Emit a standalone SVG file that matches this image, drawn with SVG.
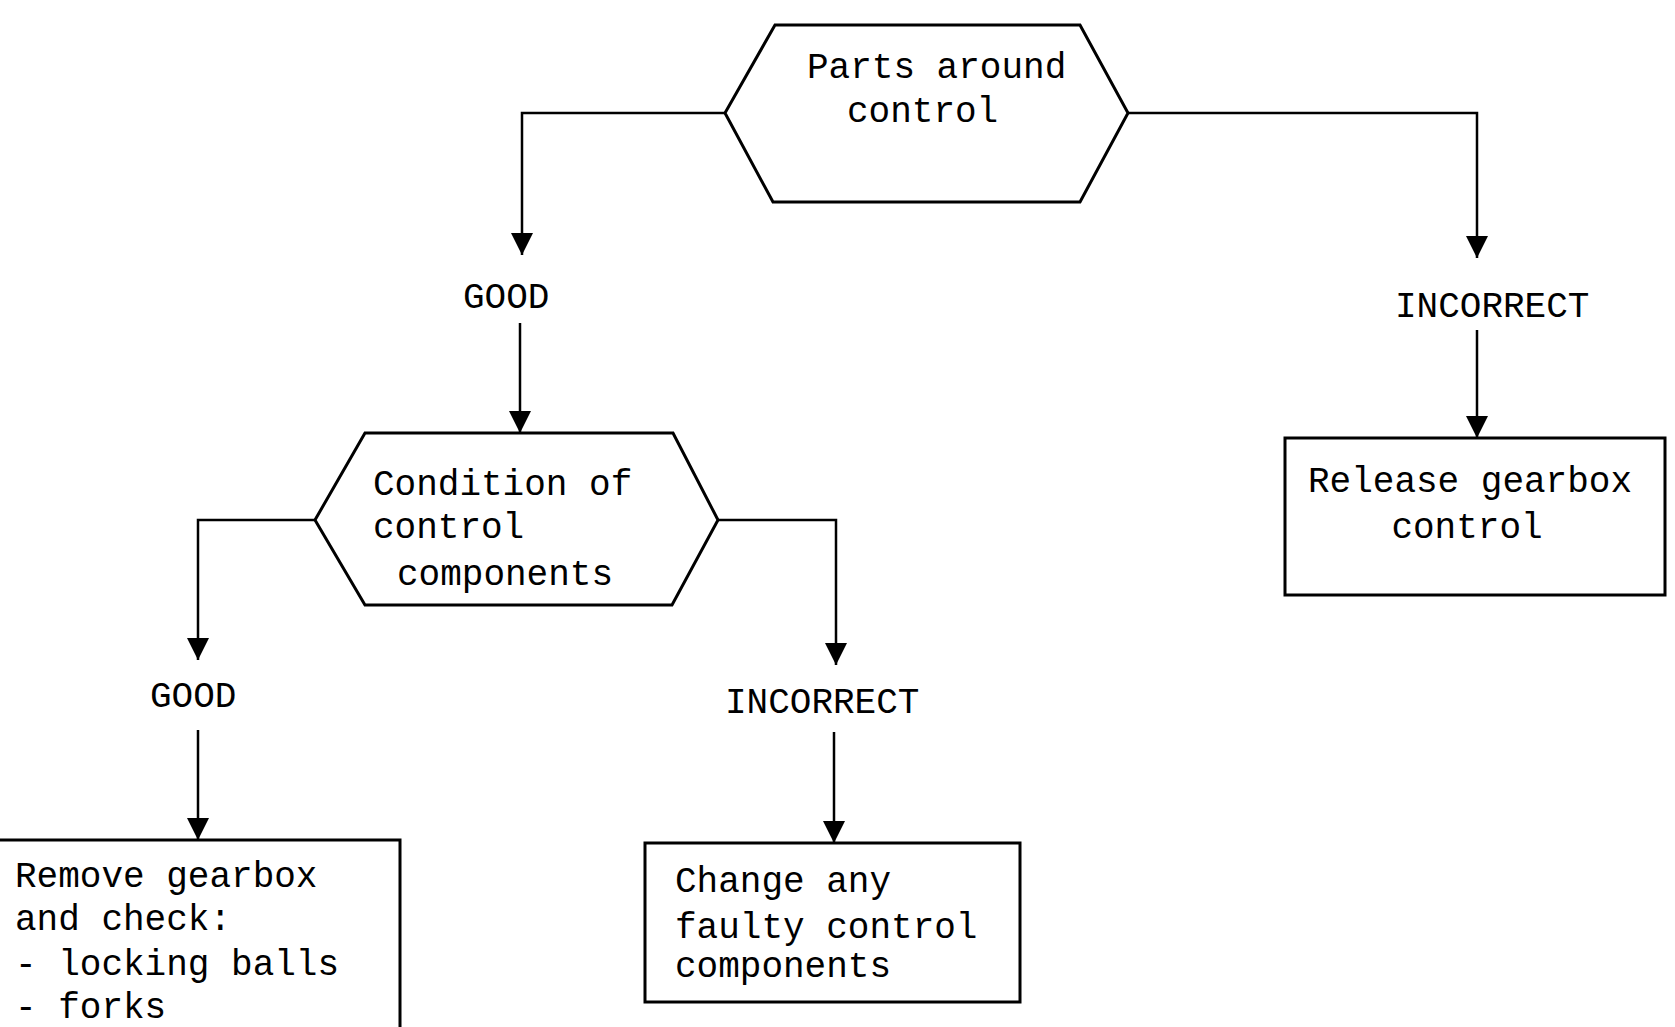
<svg xmlns="http://www.w3.org/2000/svg" width="1675" height="1027" viewBox="0 0 1675 1027">
<style>
  .shape { fill: #fff; stroke: #000; stroke-width: 3; }
  .conn { fill: none; stroke: #000; stroke-width: 2.5; }
  .t { font-family: "Liberation Mono", "Courier New", monospace; font-size: 36px; fill: #000; }
</style>
<defs>
  <marker id="arr" markerUnits="userSpaceOnUse" markerWidth="22" markerHeight="22" viewBox="0 0 20 20" refX="20" refY="10" orient="auto">
    <path d="M0,0 L20,10 L0,20 z" fill="#000"/>
  </marker>
</defs>
<rect width="1675" height="1027" fill="#fff"/>
<g id="connectors">
  <path class="conn" d="M725,113 H522 V255" marker-end="url(#arr)"/>
  <path class="conn" d="M1128,113 H1477 V258" marker-end="url(#arr)"/>
  <path class="conn" d="M520,323 V433" marker-end="url(#arr)"/>
  <path class="conn" d="M1477,330 V438" marker-end="url(#arr)"/>
  <path class="conn" d="M315,520 H198 V660" marker-end="url(#arr)"/>
  <path class="conn" d="M718,520 H836 V665" marker-end="url(#arr)"/>
  <path class="conn" d="M198,730 V840" marker-end="url(#arr)"/>
  <path class="conn" d="M834,732 V843" marker-end="url(#arr)"/>
</g>
<g id="parts-around-control">
  <polygon class="shape" points="775,25 1080,25 1128,113 1080,202 773,202 725,113"/>
  <text class="t" x="807" y="78">Parts around</text>
  <text class="t" x="847" y="122">control</text>
</g>
<g id="good-1">
  <text class="t" x="463" y="308">GOOD</text>
</g>
<g id="incorrect-1">
  <text class="t" x="1395" y="317">INCORRECT</text>
</g>
<g id="condition">
  <polygon class="shape" points="365,433 673,433 718,520 672,605 365,605 315,520"/>
  <text class="t" x="373" y="495">Condition of</text>
  <text class="t" x="373" y="538">control</text>
  <text class="t" x="397" y="585">components</text>
</g>
<g id="release">
  <rect class="shape" x="1285" y="438" width="380" height="157"/>
  <text class="t" x="1470" y="492" text-anchor="middle">Release gearbox</text>
  <text class="t" x="1467" y="538" text-anchor="middle">control</text>
</g>
<g id="good-2">
  <text class="t" x="150" y="707">GOOD</text>
</g>
<g id="incorrect-2">
  <text class="t" x="725" y="713">INCORRECT</text>
</g>
<g id="remove">
  <rect class="shape" x="-5" y="840" width="405" height="200"/>
  <text class="t" x="15" y="887">Remove gearbox</text>
  <text class="t" x="15" y="930">and check:</text>
  <text class="t" x="15" y="975">- locking balls</text>
  <text class="t" x="15" y="1018">- forks</text>
</g>
<g id="change">
  <rect class="shape" x="645" y="843" width="375" height="159"/>
  <text class="t" x="675" y="892">Change any</text>
  <text class="t" x="675" y="938">faulty control</text>
  <text class="t" x="675" y="977">components</text>
</g>
</svg>
